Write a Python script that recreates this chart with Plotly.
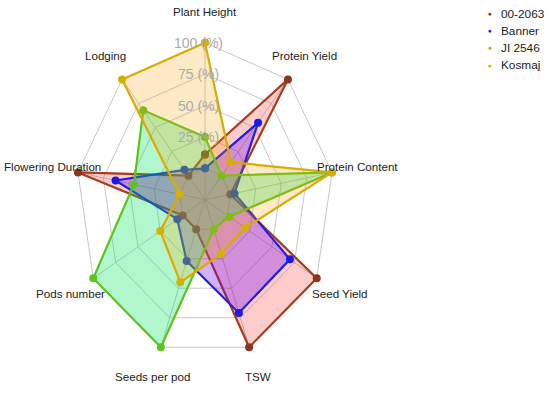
import numpy as np
import plotly.graph_objects as go

categories = ["Plant Height", "Protein Yield", "Protein Content", "Seed Yield", "TSW",
              "Seeds per pod", "Pods number", "Flowering Duration", "Lodging"]
series_names = ["00-2063", "Banner", "JI 2546", "Kosmaj"]
v_00_2063 = [11, 100, 0, 100, 100, 0, 0, 100, 0]
v_banner = [0, 55, 4, 70, 71, 27, 6, 63, 6]
v_ji2546 = [25, 0, 100, 2, 0, 100, 100, 45, 68]
v_kosmaj = [100, 14, 100, 20, 21, 45, 25, 0, 100]
scale_labels = ["25 (%)", "50 (%)", "75 (%)", "100 (%)"]
scale_values = [25, 50, 75, 100]

line_colors = ["#A83A1E", "#2020E0", "#5CC41E", "#DCAA00"]
marker_colors = ["#8E3418", "#1A1AE6", "#5CC41E", "#D4B000"]
fill_colors = ["rgba(255,0,0,0.2)", "rgba(100,0,255,0.3)", "rgba(0,225,90,0.3)", "rgba(255,160,0,0.22)"]

n = len(categories)
angles = np.deg2rad(90 - 40 * np.arange(n))


def radius(v):
    return 0.2 + 0.8 * np.asarray(v, dtype=float) / 100.0


fig = go.Figure()

# grid polygons
for g in [0, 25, 50, 75, 100]:
    r = radius(g)
    xs = list(r * np.cos(angles)) + [r * np.cos(angles[0])]
    ys = list(r * np.sin(angles)) + [r * np.sin(angles[0])]
    fig.add_trace(go.Scatter(x=xs, y=ys, mode="lines", line=dict(color="#C8C8C8", width=1),
                             hoverinfo="skip", showlegend=False))
# spokes
for a in angles:
    fig.add_trace(go.Scatter(x=[0, np.cos(a)], y=[0, np.sin(a)], mode="lines",
                             line=dict(color="#C8C8C8", width=1), hoverinfo="skip", showlegend=False))

all_vals = [v_00_2063, v_banner, v_ji2546, v_kosmaj]
for name, vals, lc, mc, fc in zip(series_names, all_vals, line_colors, marker_colors, fill_colors):
    r = radius(vals)
    xs = list(r * np.cos(angles)) + [r[0] * np.cos(angles[0])]
    ys = list(r * np.sin(angles)) + [r[0] * np.sin(angles[0])]
    fig.add_trace(go.Scatter(x=xs, y=ys, mode="lines+markers", fill="toself", fillcolor=fc,
                             line=dict(color=lc, width=2.2),
                             marker=dict(color=mc, size=8),
                             name=name, showlegend=False))

FONT = "Liberation Sans, Arial"

# axis labels
for cat, a in zip(categories, angles):
    fig.add_annotation(x=1.2 * np.cos(a), y=1.2 * np.sin(a), text=cat, showarrow=False,
                       font=dict(family=FONT, size=11.6, color="#222222"),
                       xanchor="center", yanchor="middle")

# scale labels
for lab, v in zip(scale_labels, scale_values):
    fig.add_annotation(x=-0.05, y=radius(v), text=lab, showarrow=False,
                       font=dict(family=FONT, size=14, color="#ABABAB"),
                       xanchor="center", yanchor="middle")

W, H = 550, 395
Rx, Ry = 129.0, 157.0
cx, cy = 205.0, 199.7

# legend built as text annotations (paper coords)
leg_top = 14.0
leg_step = 17.0
for i, (name, mc) in enumerate(zip(series_names, marker_colors)):
    ypx = leg_top + i * leg_step
    yp = 1 - ypx / H
    fig.add_annotation(xref="paper", yref="paper", x=490 / W, y=yp, text="●", showarrow=False,
                       font=dict(family=FONT, size=6.5, color=mc), xanchor="center", yanchor="middle")
    fig.add_annotation(xref="paper", yref="paper", x=499 / W, y=yp, text=name, showarrow=False,
                       font=dict(family=FONT, size=11.8, color="#222222"), xanchor="left", yanchor="middle")

fig.update_layout(
    width=W, height=H,
    margin=dict(l=0, r=0, t=0, b=0),
    paper_bgcolor="white", plot_bgcolor="white",
    xaxis=dict(range=[-cx / Rx, (W - cx) / Rx], visible=False, fixedrange=True),
    yaxis=dict(range=[-(H - cy) / Ry, cy / Ry], visible=False, fixedrange=True),
    showlegend=False,
)

fig.write_html("out.html", config={"displayModeBar": False},
               post_script="document.body.style.margin='0';document.body.style.overflow='hidden';")
